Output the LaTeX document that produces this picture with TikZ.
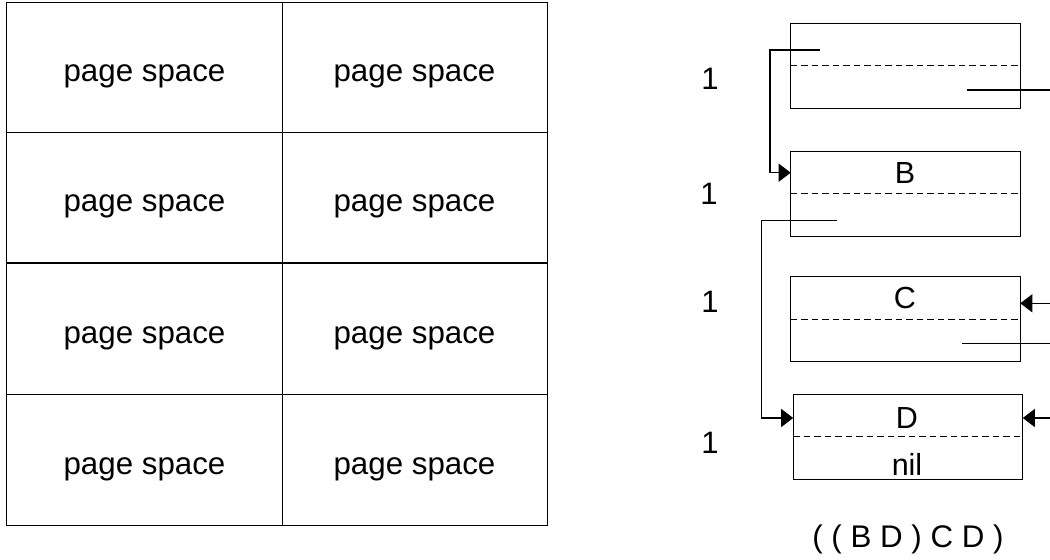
\documentclass[tikz,border=0pt]{standalone}
\usepackage{fontspec}
\setmainfont{Liberation Sans}
\usetikzlibrary{arrows.meta}
\tikzset{
  cell/.style={draw, line width=1bp, minimum width=275bp, minimum height=130bp, inner sep=0pt, outer sep=0pt},
  consbox/.style={draw, line width=1.2bp, minimum width=229.6bp, minimum height=85bp, inner sep=0pt, outer sep=0pt},
  lbl/.style={font=\fontsize{30.5bp}{34bp}\selectfont, inner sep=0pt, anchor=base},
  pagelbl/.style={font=\fontsize{31.3bp}{34bp}\selectfont, inner sep=0pt, anchor=base},
  numlbl/.style={font=\fontsize{31bp}{34bp}\selectfont, inner sep=0pt, anchor=base},
  half/.style={dashed, line width=1bp, dash pattern=on 6.5bp off 4bp},
  ptr/.style={line width=1.1bp},
  tip/.style={-{Triangle[length=12bp,width=18bp]}},
}
\begin{document}
\begin{tikzpicture}[x=1bp,y=-1bp]
\useasboundingbox (0,0) rectangle (1050,560);
% grid
\foreach \r/\yc in {1/68,2/198,3/329,4/460}{
  \node[cell] (L\r) at (144.5,\yc) {};
  \node[cell, minimum width=265bp] (R\r) at (414.5,\yc) {};
  \node[pagelbl] at ([yshift=-14bp]L\r.center) {page space};
  \node[pagelbl] at ([yshift=-14bp]R\r.center) {page space};
}
% cons boxes
\node[consbox] (A) at (905.5,65.8) {};
\node[consbox] (B) at (905.5,194.2) {};
\node[consbox] (C) at (905.5,319.2) {};
\node[consbox] (D) at (908,436.8) {};
\draw[half] (A.west |- 0,66) -- (A.east |- 0,66);
\draw[half] (B.west |- 0,193.7) -- (B.east |- 0,193.7);
\draw[half] (C.west |- 0,319.3) -- (C.east |- 0,319.3);
\draw[half] (D.west |- 0,436.7) -- (D.east |- 0,436.7);
\node[lbl] (tB) at (905,183.3) {B};
\node[lbl] (tC) at (905,308.3) {C};
\node[lbl] (tD) at (907,428.3) {D};
\node[lbl] (tnil) at (907,475) {nil};
% count labels
\node[numlbl] (n1) at (710,89.5) {1};
\node[numlbl] (n2) at (709,204.5) {1};
\node[numlbl] (n3) at (710,313) {1};
\node[numlbl] (n4) at (710,453.3) {1};
\node[pagelbl] (expr) at (908,547) {( ( B D ) C D )};
% pointers
\coordinate (a1) at (820,50);
\coordinate (b1) at (836.7,220.7);
\coordinate (a2) at (966.7,90);
\coordinate (a2e) at (1050,90);
\coordinate (ce) at (1050,303.3);
\coordinate (c2) at (961.7,343.3);
\coordinate (c2e) at (1050,343.3);
\coordinate (de) at (1050,418);
\draw[ptr, tip] (a1) -- (770,50) |- (B.west |- 0,172.7);
\draw[ptr, tip] (b1) -- (761.7,220.7) |- (D.west |- 0,418);
\draw[ptr] (a2) -- (a2e);
\draw[ptr, tip] (ce) -- (C.east |- ce);
\draw[ptr] (c2) -- (c2e);
\draw[ptr, tip] (de) -- (D.east |- de);
\end{tikzpicture}
\end{document}
